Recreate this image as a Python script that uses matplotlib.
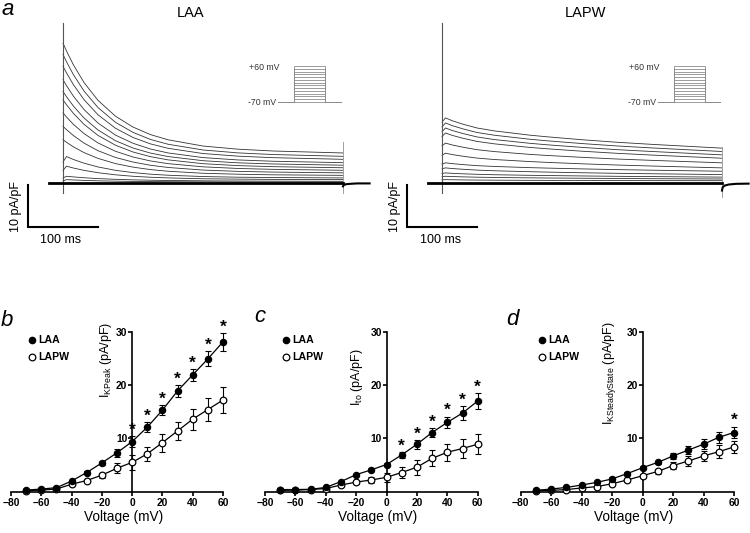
import numpy as np
import matplotlib
matplotlib.use("Agg")
import matplotlib.pyplot as plt

plt.rcParams['font.family'] = ['Liberation Sans', 'DejaVu Sans']
plt.rcParams['mathtext.fontset'] = 'custom'
plt.rcParams['mathtext.rm'] = 'Liberation Sans'
plt.rcParams['mathtext.it'] = 'Liberation Sans:italic'
plt.rcParams['mathtext.bf'] = 'Liberation Sans:bold'

# ---------------- data: panel a (current traces, pA/pF vs ms) ----------------
trace_t = [0, 5, 15, 30, 50, 75, 100, 125, 150, 200, 250, 300, 400]
laa_traces = [
    [33.3, 31.43, 28.09, 23.93, 19.68, 15.90, 13.32, 11.52, 10.29, 8.80, 8.05, 7.62, 7.15],
    [30.6, 28.86, 25.76, 21.90, 17.96, 14.45, 12.05, 10.37, 9.23, 7.86, 7.17, 6.78, 6.35],
    [27.8, 26.21, 23.38, 19.85, 16.24, 13.03, 10.84, 9.31, 8.26, 7.02, 6.39, 6.03, 5.64],
    [24.6, 23.18, 20.64, 17.50, 14.27, 11.40, 9.46, 8.09, 7.16, 6.05, 5.49, 5.18, 4.84],
    [21.8, 20.54, 18.29, 15.48, 12.62, 10.07, 8.33, 7.12, 6.30, 5.31, 4.80, 4.53, 4.24],
    [19.8, 18.63, 16.56, 13.97, 11.33, 8.99, 7.38, 6.27, 5.51, 4.60, 4.14, 3.89, 3.63],
    [16.7, 15.71, 13.95, 11.77, 9.54, 7.55, 6.19, 5.25, 4.61, 3.85, 3.46, 3.25, 3.03],
    [13.5, 12.70, 11.28, 9.50, 7.69, 6.08, 4.99, 4.22, 3.70, 3.08, 2.77, 2.60, 2.42],
    [10.3, 9.69, 8.60, 7.24, 5.86, 4.62, 3.78, 3.19, 2.80, 2.32, 2.09, 1.95, 1.82],
    [5.0, 6.3, 5.59, 4.72, 3.82, 3.02, 2.48, 2.10, 1.85, 1.54, 1.38, 1.30, 1.21],
    [3.0, 4.0, 3.56, 3.01, 2.45, 1.95, 1.60, 1.37, 1.21, 1.01, 0.92, 0.86, 0.81],
    [1.2, 1.6, 1.45, 1.25, 1.05, 0.88, 0.75, 0.66, 0.60, 0.52, 0.47, 0.44, 0.40],
    [0.5, 0.8, 0.72, 0.62, 0.52, 0.44, 0.38, 0.34, 0.31, 0.27, 0.24, 0.22, 0.20],
]
lapw_traces = [
    [14.5, 15.5, 14.8, 14.0, 13.1, 12.4, 11.9, 11.4, 11.0, 10.3, 9.7, 9.2, 8.3],
    [13.35, 14.3, 13.64, 12.88, 12.03, 11.37, 10.90, 10.43, 10.05, 9.39, 8.82, 8.35, 7.5],
    [12.21, 13.1, 12.48, 11.77, 10.97, 10.34, 9.90, 9.46, 9.10, 8.48, 7.94, 7.50, 6.7],
    [11.07, 11.9, 11.32, 10.65, 9.90, 9.32, 8.90, 8.48, 8.15, 7.57, 7.07, 6.65, 5.9],
    [8.85, 9.5, 9.04, 8.52, 7.93, 7.48, 7.15, 6.82, 6.56, 6.11, 5.71, 5.39, 4.8],
    [6.61, 7.1, 6.76, 6.37, 5.93, 5.59, 5.35, 5.11, 4.91, 4.57, 4.28, 4.04, 3.6],
    [4.52, 4.8, 4.61, 4.38, 4.13, 3.94, 3.80, 3.66, 3.55, 3.36, 3.19, 3.05, 2.8],
    [3.38, 3.6, 3.44, 3.27, 3.07, 2.91, 2.80, 2.69, 2.60, 2.44, 2.31, 2.20, 2.0],
    [2.26, 2.4, 2.30, 2.19, 2.07, 1.97, 1.90, 1.83, 1.78, 1.68, 1.59, 1.53, 1.4],
    [1.51, 1.6, 1.54, 1.46, 1.38, 1.32, 1.27, 1.23, 1.19, 1.13, 1.08, 1.03, 0.95],
    [0.75, 0.8, 0.77, 0.73, 0.70, 0.67, 0.65, 0.63, 0.62, 0.60, 0.58, 0.57, 0.55],
]
baseline_t = [-20, 400]
baseline_v = [0, 0]
tail_t = [400, 401, 404, 410, 420, 438]
laa_tail_v = [-0.8, -0.5, -0.3, -0.2, -0.1, -0.1]
lapw_tail_v = [-1.8, -1.0, -0.6, -0.35, -0.2, -0.15]
artifact_on = [-2.4, 38.0]          # capacitive transient at step onset
laa_artifact_off = [-2.4, 9.8]
lapw_artifact_off = [-3.3, 8.6]

# voltage protocol
hold_mv = -70
step_mv = list(range(-70, 61, 10))
proto_t = [0, 50, 50, 150, 150, 200]

# ---------------- data: panels b-d (I-V relations) ----------------
volt = [-70, -60, -50, -40, -30, -20, -10, 0, 10, 20, 30, 40, 50, 60]
xticks = [-80, -60, -40, -20, 0, 20, 40, 60]
yticks = [10, 20, 30]

b_laa = [0.3, 0.5, 0.75, 2.0, 3.6, 5.4, 7.3, 9.4, 12.1, 15.3, 18.9, 21.9, 24.9, 28.1]
b_laa_err = [0, 0, 0, 0.2, 0.3, 0.4, 0.7, 1.1, 0.9, 1.0, 1.1, 1.1, 1.4, 1.7]
b_lapw = [0.2, 0.3, 0.5, 1.4, 2.1, 3.1, 4.4, 5.5, 7.1, 9.2, 11.4, 13.6, 15.4, 17.2]
b_lapw_err = [0, 0, 0, 0.2, 0.3, 0.5, 0.9, 1.4, 1.3, 1.7, 1.75, 2.0, 2.2, 2.35]
b_stars = [0, 10, 20, 30, 40, 50, 60]

c_laa = [0.4, 0.4, 0.45, 0.8, 1.9, 3.2, 4.1, 5.1, 6.9, 8.9, 11.1, 13.0, 14.75, 17.0]
c_laa_err = [0, 0, 0, 0, 0.2, 0.2, 0.3, 0.3, 0.6, 0.8, 0.9, 1.1, 1.3, 1.5]
c_lapw = [0.25, 0.3, 0.4, 0.6, 1.25, 1.8, 2.2, 2.7, 3.6, 4.6, 6.25, 7.4, 8.1, 8.9]
c_lapw_err = [0, 0, 0, 0, 0.2, 0.3, 0.5, 0.9, 1.1, 1.4, 1.5, 1.6, 1.8, 1.9]
c_stars = [10, 20, 30, 40, 50, 60]

d_laa = [0.25, 0.5, 0.8, 1.25, 1.75, 2.4, 3.4, 4.5, 5.5, 6.7, 7.8, 8.9, 10.2, 11.1]
d_laa_err = [0, 0, 0, 0, 0.2, 0.3, 0.3, 0.3, 0.3, 0.6, 0.7, 0.9, 1.0, 1.1]
d_lapw = [0.2, 0.25, 0.4, 0.7, 0.95, 1.5, 2.2, 3.0, 3.8, 4.9, 5.75, 6.7, 7.5, 8.4]
d_lapw_err = [0, 0, 0, 0.2, 0.2, 0.3, 0.3, 0.4, 0.4, 0.7, 0.9, 1.0, 1.2, 1.2]
d_stars = [60]

# ---------------- figure ----------------
W, H = 750, 533
fig = plt.figure(figsize=(7.5, 5.33), dpi=100)


def px_axes(x0, y0, x1, y1):
    return fig.add_axes([x0 / W, 1 - y1 / H, (x1 - x0) / W, (y1 - y0) / H])


def ftext(x, y, s, **kw):
    return fig.text(x / W, 1 - y / H, s, **kw)


TRACE_COL = '#333333'


def trace_panel(x_zero_px, traces, tail_v, art_off, proto_box, lab_px, title, title_x):
    # t -> px : x_zero + 0.7 t ; value -> px : 183 - 4.2 v
    xl, xr = -60, 450
    yb, yt = -14, 40
    ax = px_axes(x_zero_px + 0.7 * xl, 183 - 4.2 * yt, x_zero_px + 0.7 * xr, 183 - 4.2 * yb)
    ax.set_xlim(xl, xr)
    ax.set_ylim(yb, yt)
    ax.axis('off')
    for tr in traces:
        ax.plot(trace_t, tr, color=TRACE_COL, lw=0.6, clip_on=False)
    ax.plot([0, 0], artifact_on, color='#555555', lw=0.8, clip_on=False)
    ax.plot([400, 400], art_off, color='#a0a0a0', lw=0.7, clip_on=False)
    ax.plot(baseline_t, baseline_v, color='k', lw=2.0, clip_on=False)
    ax.plot(tail_t, tail_v, color='k', lw=1.5, clip_on=False)
    # scale bar: 10 pA/pF, 100 ms
    ax.plot([-50, -50, 50], [-0.5, -10.5, -10.5], color='k', lw=1.5,
            solid_joinstyle='miter', clip_on=False)
    ftext(lab_px[0], 206, '10 pA/pF', rotation=90, ha='center', va='center', fontsize=9)
    ftext(lab_px[1], 240, '100 ms', ha='center', va='center', fontsize=9)
    ftext(title_x, 17, title, ha='center', va='baseline', fontsize=10.5)
    # voltage-protocol inset
    x0, x1 = proto_box
    iax = px_axes(x0, 66, x1, 102)
    iax.set_xlim(0, 200)
    iax.set_ylim(-70, 60)
    iax.axis('off')
    for v in step_mv:
        iax.plot(proto_t, [hold_mv, hold_mv, v, v, hold_mv, hold_mv],
                 color='#8c8c8c', lw=0.6, clip_on=False)
    ftext(x0 + 1.5, 68, '+60 mV', ha='right', va='center', fontsize=6.3, color='#333333')
    ftext(x0 - 1.5, 102, '-70 mV', ha='right', va='center', fontsize=6.3, color='#333333')
    return ax


trace_panel(63, laa_traces, laa_tail_v, laa_artifact_off, (278, 341), (16, 61), 'LAA', 191)
trace_panel(442, lapw_traces, lapw_tail_v, lapw_artifact_off, (658, 720), (395, 441), 'LAPW', 585)
ftext(1, 15, 'a', fontsize=16, style='italic', ha='left', va='baseline')


def iv_panel(left_px, right_px, laa, laa_err, lapw, lapw_err, stars, ylabel,
             ylab_pos, letter, letter_pos):
    ax = px_axes(left_px, 331.7, right_px, 491.7)
    ax.set_xlim(-80, 60)
    ax.set_ylim(0, 30)
    for s in ['top', 'right']:
        ax.spines[s].set_visible(False)
    ax.spines['left'].set_position(('data', 0))
    for s in ['left', 'bottom']:
        ax.spines[s].set_linewidth(1.2)
    ax.set_xticks(xticks)
    ax.set_yticks(yticks)
    ax.tick_params(axis='both', direction='out', length=3, width=1.2,
                   labelsize=7.4, pad=1.2)
    ax.tick_params(axis='y', pad=0.5)
    for lab in ax.get_xticklabels() + ax.get_yticklabels():
        lab.set_fontweight('bold')
    ax.set_facecolor('none')

    def series(m, e, filled):
        idx = [i for i in range(len(volt)) if e[i] > 0]
        ax.errorbar([volt[i] for i in idx], [m[i] for i in idx], yerr=[e[i] for i in idx],
                    fmt='none', ecolor='k', elinewidth=0.8, capsize=2.3, capthick=0.8,
                    clip_on=False, zorder=3)
        ax.plot(volt, m, '-', color='k', lw=0.9, zorder=2, clip_on=False)
        ax.plot(volt, m, 'o', ms=4.8 if not filled else 4.5,
                mfc='k' if filled else 'white', mec='k', mew=0.9,
                zorder=4, clip_on=False)

    series(lapw, lapw_err, False)
    series(laa, laa_err, True)
    for sx in stars:
        i = volt.index(sx)
        ax.annotate('*', xy=(sx, laa[i] + laa_err[i]), xytext=(0, 1.0),
                    textcoords='offset points', ha='center', va='baseline',
                    fontsize=12.5, fontweight='bold', annotation_clip=False)
    # legend
    ax.plot([-66], [28.4], 'o', ms=4.5, mfc='k', mec='k', clip_on=False)
    ax.plot([-66], [25.2], 'o', ms=4.8, mfc='white', mec='k', mew=0.9, clip_on=False)
    ax.text(-62.2, 28.4, 'LAA', fontsize=7.6, fontweight='bold', va='center', ha='left')
    ax.text(-62.2, 25.2, 'LAPW', fontsize=7.6, fontweight='bold', va='center', ha='left')
    # axis labels
    ftext(left_px + 113, 517, 'Voltage (mV)', ha='center', va='center', fontsize=9.8)
    ftext(ylab_pos[0], ylab_pos[1], ylabel, rotation=90, ha='center', va='center',
          fontsize=9)
    ftext(letter_pos[0], letter_pos[1], letter, fontsize=16, style='italic',
          ha='left', va='baseline')
    return ax


iv_panel(11, 223, b_laa, b_laa_err, b_lapw, b_lapw_err, b_stars,
         r'I$_{\mathrm{KPeak}}$ (pA/pF)', (106, 360), 'b', (1, 326))
iv_panel(265, 477.7, c_laa, c_laa_err, c_lapw, c_lapw_err, c_stars,
         r'I$_{\mathrm{to}}$ (pA/pF)', (357, 377), 'c', (254, 322))
iv_panel(520.7, 734, d_laa, d_laa_err, d_lapw, d_lapw_err, d_stars,
         r'I$_{\mathrm{KSteadyState}}$ (pA/pF)', (609, 373), 'd', (506, 325))

fig.savefig('out.png', dpi=100)
